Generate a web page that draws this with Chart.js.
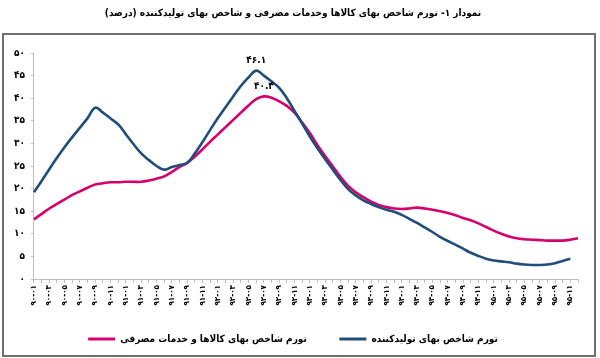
<!DOCTYPE html>
<html>
<head>
<meta charset="utf-8">
<script src="https://cdn.jsdelivr.net/npm/chart.js@4.4.1/dist/chart.umd.min.js"></script>
<style>
  html, body { margin: 0; padding: 0; background: #ffffff; }
  #wrap { width: 600px; height: 358px; position: relative; }
  #frame { position: absolute; left: 2px; top: 33px; width: 590px; height: 320px;
           border: 2px solid #707070; pointer-events: none; }
</style>
</head>
<body>
<div id="wrap"><canvas id="c" width="600" height="358"></canvas><div id="frame"></div></div>
<script>
// ---- data ----
const years = ['۹۰', '۹۱', '۹۲', '۹۳', '۹۴', '۹۵'];
const months = ['۰۱', '۰۲', '۰۳', '۰۴', '۰۵', '۰۶', '۰۷', '۰۸', '۰۹', '۱۰', '۱۱', '۱۲'];
const categories = [];
years.forEach(y => months.forEach(m => categories.push(y + '-' + m)));

const cpiLabel = 'تورم شاخص بهای کالاها و خدمات مصرفی';
const ppiLabel = 'تورم شاخص بهای تولیدکننده';

const cpiValues = [
  13.2, 14.4, 15.6, 16.6, 17.6, 18.6, 19.4, 20.2, 20.9, 21.2, 21.4, 21.4,
  21.5, 21.5, 21.5, 21.8, 22.2, 22.7, 23.7, 24.8, 25.7, 27.1, 28.7, 30.4,
  32.0, 33.6, 35.2, 36.8, 38.4, 39.8, 40.4, 40.1, 39.3, 38.3, 36.8, 34.6,
  32.3, 29.6, 27.2, 24.9, 22.6, 20.6, 19.2, 18.1, 17.1, 16.4, 15.9, 15.6,
  15.5, 15.6, 15.8, 15.6, 15.3, 15.0, 14.6, 14.1, 13.5, 13.0, 12.3, 11.5,
  10.7, 10.0, 9.4, 9.0, 8.8, 8.7, 8.6, 8.5, 8.5, 8.5, 8.7, 9.0
];
const ppiValues = [
  19.2, 21.7, 24.3, 26.8, 29.2, 31.4, 33.5, 35.6, 37.9, 36.8, 35.5, 34.2,
  32.0, 29.8, 27.8, 26.3, 25.0, 24.2, 24.8, 25.2, 25.7, 27.8, 30.3, 33.0,
  35.6, 38.0, 40.4, 42.7, 44.6, 46.1, 45.0, 43.7, 42.3, 40.0, 37.2, 34.4,
  31.5, 28.9, 26.5, 24.2, 21.9, 19.9, 18.5, 17.4, 16.6, 15.9, 15.3, 14.9,
  14.2, 13.3, 12.4, 11.4, 10.4, 9.3, 8.4, 7.6, 6.7, 5.8, 5.1, 4.5,
  4.1, 3.9, 3.7, 3.4, 3.2, 3.1, 3.1, 3.2, 3.5, 4.0, 4.5, null
];
const peakPoints = [ { series: 1, index: 29 }, { series: 0, index: 30 } ];

const yTicksMin = 0, yTicksMax = 50, yTicksStep = 5;
const titleText = 'نمودار ۱- تورم شاخص بهای کالاها وخدمات مصرفی و شاخص بهای تولیدکننده (درصد)';

// ---- helpers ----
const faDigits = '۰۱۲۳۴۵۶۷۸۹';
const toFa = s => String(s).replace(/[0-9]/g, d => faDigits[+d]);
const FONT = "'DejaVu Sans Condensed', 'DejaVu Sans', sans-serif";
const RED = '#d5006d';
const BLUE = '#1f4e79';

const peakLabelPlugin = {
  id: 'peakLabels',
  afterDatasetsDraw(chart) {
    const ctx = chart.ctx;
    ctx.save();
    ctx.font = "bold 10px " + FONT;
    ctx.fillStyle = '#000';
    ctx.textAlign = 'center';
    ctx.textBaseline = 'bottom';
    peakPoints.forEach(p => {
      const el = chart.getDatasetMeta(p.series).data[p.index];
      const v = chart.data.datasets[p.series].data[p.index];
      ctx.fillText(toFa(v.toFixed(1)), el.x, el.y - 5);
    });
    ctx.restore();
  }
};

new Chart(document.getElementById('c'), {
  type: 'line',
  data: {
    labels: categories,
    datasets: [
      {
        label: cpiLabel,
        data: cpiValues,
        borderColor: RED,
        backgroundColor: RED,
        borderWidth: 2.6,
        pointRadius: 0,
        tension: 0.4,
        order: 1
      },
      {
        label: ppiLabel,
        data: ppiValues,
        borderColor: BLUE,
        backgroundColor: BLUE,
        borderWidth: 2.6,
        pointRadius: 0,
        tension: 0.4,
        order: 0
      }
    ]
  },
  options: {
    responsive: false,
    animation: false,
    devicePixelRatio: 1,
    layout: { padding: { left: 8, right: 22, top: 0, bottom: 4 } },
    plugins: {
      tooltip: { enabled: false },
      title: {
        display: true,
        text: '\u202B' + titleText + '\u202C',
        color: '#000',
        font: { family: FONT, size: 10, weight: 'bold' },
        padding: { top: 7, bottom: 34 }
      },
      legend: {
        position: 'bottom',
        labels: {
          boxWidth: 27,
          boxHeight: 3,
          padding: 10,
          color: '#000',
          font: { family: FONT, size: 10, weight: 'bold' },
          generateLabels(chart) {
            return chart.data.datasets.map((ds, i) => ({
              text: i === 0 ? ds.label + '\u2003\u2003\u2002' : ds.label,
              fillStyle: ds.borderColor,
              strokeStyle: ds.borderColor,
              lineWidth: 0,
              hidden: false,
              datasetIndex: i,
              fontColor: '#000'
            }));
          }
        }
      }
    },
    scales: {
      x: {
        type: 'category',
        offset: false,
        grid: { display: true, drawOnChartArea: false, drawTicks: true, tickLength: 4, color: '#bfbfbf' },
        border: { display: true, color: '#bfbfbf', width: 1 },
        ticks: {
          autoSkip: false,
          maxRotation: 90,
          minRotation: 90,
          padding: 2,
          color: '#000',
          font: { family: FONT, size: 8, weight: 'bold' },
          callback(val, idx) { return idx % 2 === 0 ? this.getLabelForValue(val) : ''; }
        },
        afterFit(scale) { scale.height = 45; }
      },
      y: {
        min: yTicksMin,
        max: yTicksMax,
        grid: { display: true, drawOnChartArea: false, drawTicks: true, tickLength: 3, color: '#bfbfbf' },
        border: { display: true, color: '#bfbfbf', width: 1 },
        ticks: {
          stepSize: yTicksStep,
          padding: 6,
          color: '#000',
          font: { family: FONT, size: 10, weight: 'bold' },
          callback(v) { return toFa(v); }
        }
      }
    }
  },
  plugins: [peakLabelPlugin]
});
</script>
</body>
</html>
